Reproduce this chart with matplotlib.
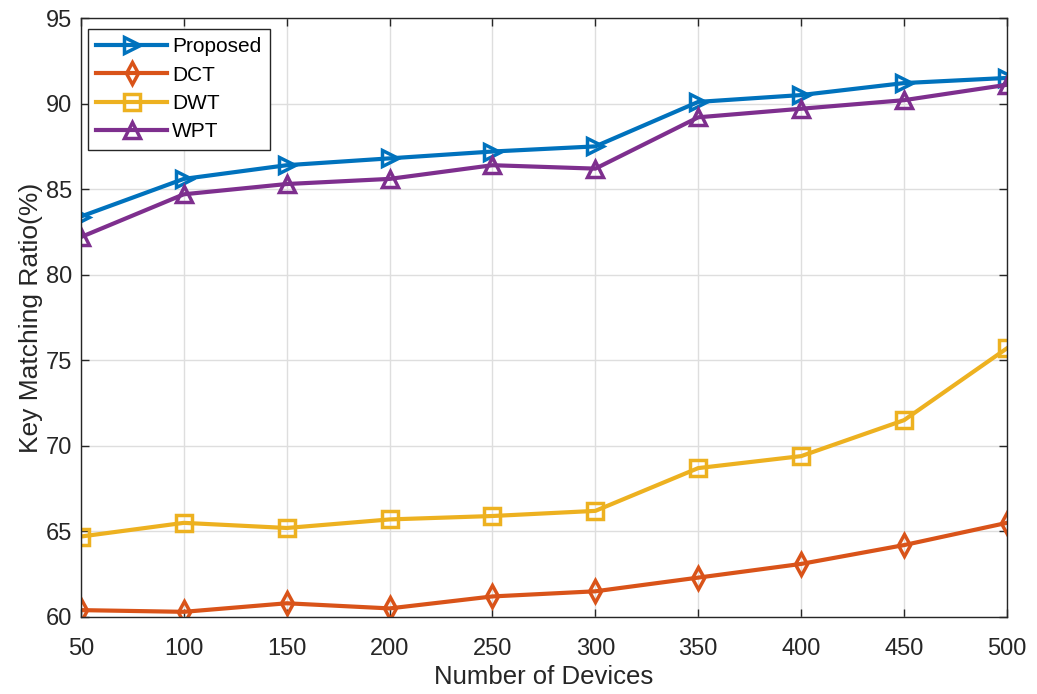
import matplotlib
matplotlib.use("Agg")
import matplotlib.pyplot as plt

plt.rcParams["font.family"] = ["Liberation Sans", "DejaVu Sans"]

devices = [50, 100, 150, 200, 250, 300, 350, 400, 450, 500]
proposed = [83.4, 85.6, 86.4, 86.8, 87.2, 87.5, 90.1, 90.5, 91.2, 91.5]
dct = [60.4, 60.3, 60.8, 60.5, 61.2, 61.5, 62.3, 63.1, 64.2, 65.5]
dwt = [64.7, 65.5, 65.2, 65.7, 65.9, 66.2, 68.7, 69.4, 71.5, 75.7]
wpt = [82.2, 84.7, 85.3, 85.6, 86.4, 86.2, 89.2, 89.7, 90.2, 91.1]

fig = plt.figure(figsize=(10.37, 6.94), dpi=100)
ax = fig.add_axes([0.078, 0.111, 0.893, 0.863])

series = [
    ("Proposed", proposed, "#0072BD", ">"),
    ("DCT", dct, "#D95319", "d"),
    ("DWT", dwt, "#EDB120", "s"),
    ("WPT", wpt, "#7E2F8E", "^"),
]
for name, vals, col, mk in series:
    ax.plot(devices, vals, color=col, linewidth=3, marker=mk, markersize=11,
            markerfacecolor="none", markeredgecolor=col, markeredgewidth=2.5,
            label=name)

ax.set_xlim(50, 500)
ax.set_ylim(60, 95)
ax.set_xticks(devices)
ax.set_yticks(range(60, 96, 5))
ax.grid(True, color="#dedede", linewidth=1)
ax.set_axisbelow(True)
ax.tick_params(direction="in", top=True, right=True, labelsize=17,
               length=6, width=1, colors="#262626")
ax.tick_params(axis="x", pad=15)
ax.tick_params(axis="y", pad=6)
for sp in ax.spines.values():
    sp.set_color("#262626")
    sp.set_linewidth(1)

ax.set_xlabel("Number of Devices", fontsize=18.5, color="#262626", labelpad=4)
ax.set_ylabel("Key Matching Ratio(%)", fontsize=19, color="#262626", labelpad=2)

leg = ax.legend(loc="upper left", bbox_to_anchor=(0.0076, 0.982), fontsize=15,
                fancybox=False, framealpha=1, edgecolor="#262626",
                borderpad=0.4, labelspacing=0.45, handlelength=3.4,
                handletextpad=0.25, borderaxespad=0)
leg.get_frame().set_linewidth(1)

fig.savefig("out.png", dpi=100)
